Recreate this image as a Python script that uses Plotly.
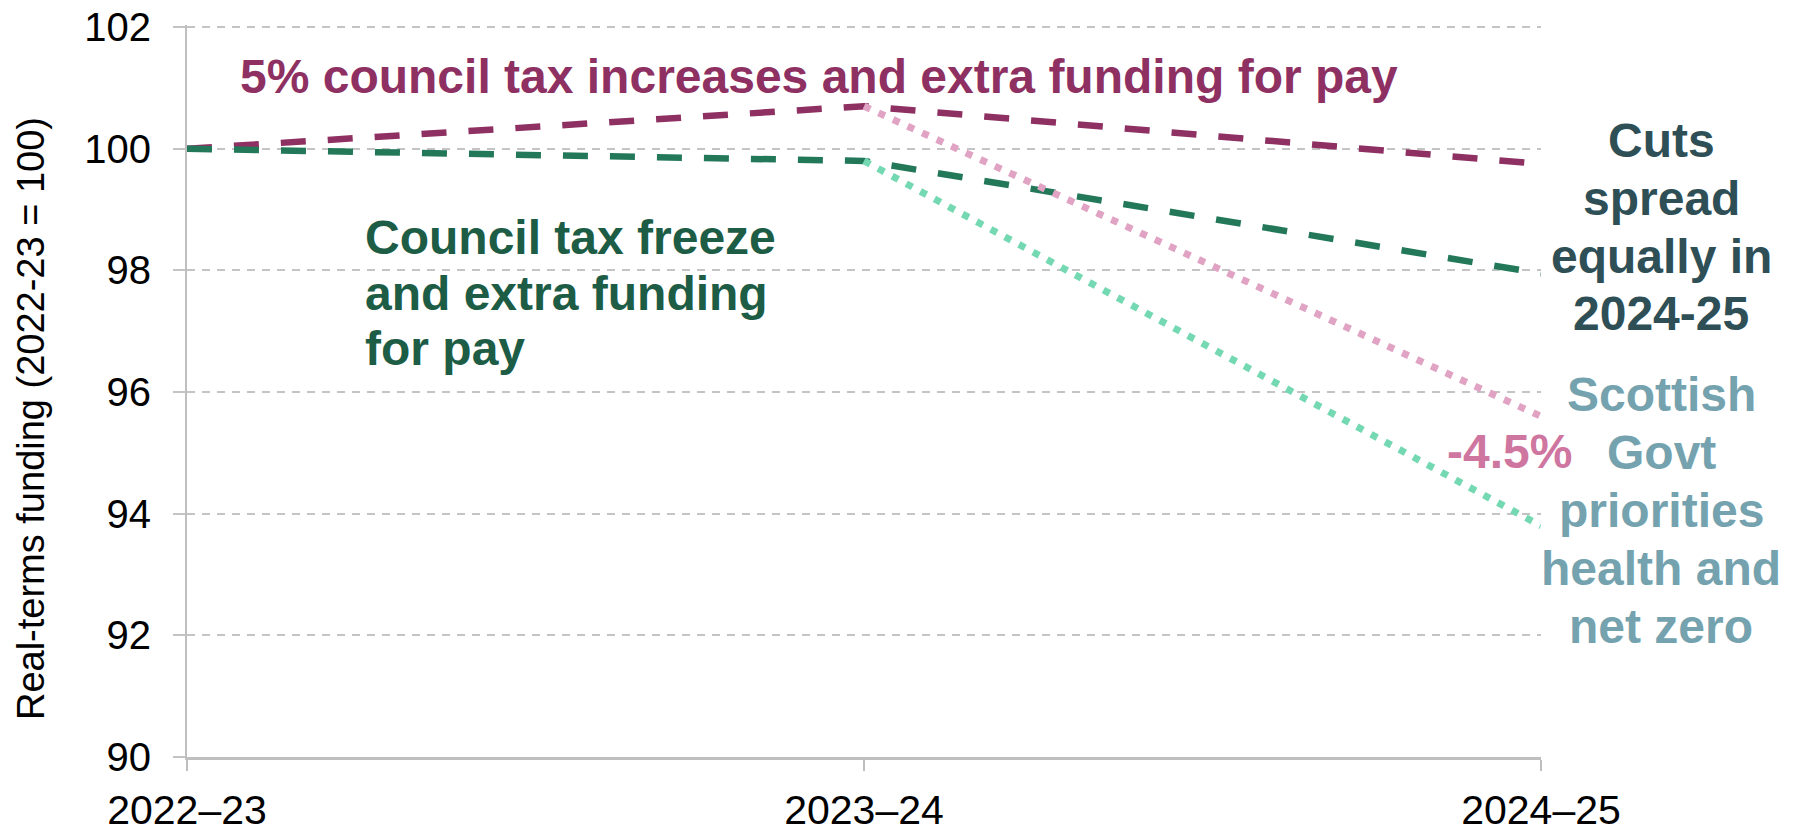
import plotly.graph_objects as go

# ---- data ----
years = ["2022–23", "2023–24", "2024–25"]
ct_increase_pay = [100.0, 100.7, 99.75]      # 5% council tax increases and extra funding for pay
ct_freeze_pay = [100.0, 99.8, 97.95]         # Council tax freeze and extra funding for pay
sg_priorities_increase = [None, 100.7, 95.6]  # Scottish Govt priorities (from 5% increase path)
sg_priorities_freeze = [None, 99.8, 93.8]     # Scottish Govt priorities (from freeze path)
y_ticks = [90, 92, 94, 96, 98, 100, 102]

# ---- styles ----
FONT = "Liberation Sans, Arial, sans-serif"
MAROON = "#8E3062"
GREEN_LINE = "#23785A"
GREEN_TEXT = "#1D5C45"
PINK = "#E0A3C3"
MINT = "#74D8B2"
PINK_TEXT = "#CF76A0"
SLATE = "#2F4F56"
TEAL_TEXT = "#74A2AE"
GRID = "#C4C4C4"

OFF = 8                      # page body margin
W, H = 1796 - OFF, 828 - OFF
Y0, Y1, YPAD = 90, 102, 0.035
# plot area in page pixels (102 gridline at 27, 90 at 757)
L, R, B = 187, 1541, 757
T = 27 - YPAD * (B - 27) / (Y1 - Y0)

def px(x):
    return (x - L) / (R - L)

def py(y):
    return (B - y) / (B - T)

fig = go.Figure()

fig.add_trace(go.Scatter(x=years, y=ct_increase_pay, mode="lines", cliponaxis=False,
                         line=dict(color=MAROON, width=6.5, dash="25px,22px"), showlegend=False))
fig.add_trace(go.Scatter(x=years, y=ct_freeze_pay, mode="lines", cliponaxis=False,
                         line=dict(color=GREEN_LINE, width=6.5, dash="25px,22px"), showlegend=False))
fig.add_trace(go.Scatter(x=years, y=sg_priorities_increase, mode="lines", cliponaxis=False,
                         line=dict(color=PINK, width=7, dash="7px,9px"), showlegend=False))
fig.add_trace(go.Scatter(x=years, y=sg_priorities_freeze, mode="lines", cliponaxis=False,
                         line=dict(color=MINT, width=7, dash="7px,9px"), showlegend=False))

annotations = []

def add_line(text, x, baseline, size, color, anchor="center", bold=True):
    mid = baseline - 0.30 * size
    annotations.append(dict(
        text=f"<b>{text}</b>" if bold else text,
        x=px(x), y=py(mid), xref="paper", yref="paper",
        xanchor=anchor, yanchor="middle", showarrow=False,
        font=dict(family=FONT, size=size, color=color)))

add_line("5% council tax increases and extra funding for pay", 238, 91, 48, MAROON, anchor="left")

for i, t in enumerate(["Council tax freeze", "and extra funding", "for pay"]):
    add_line(t, 363, 252 + i * 55.5, 48, GREEN_TEXT, anchor="left")

for i, t in enumerate(["Cuts", "spread", "equally in", "2024-25"]):
    add_line(t, 1661, 155 + i * 57.7, 48, SLATE)

for i, t in enumerate(["Scottish", "Govt", "priorities", "health and", "net zero"]):
    add_line(t, 1661, 409 + i * 58, 48, TEAL_TEXT)

add_line("-4.5%", 1509, 466, 48, PINK_TEXT)

# y-axis title
annotations.append(dict(
    text="Real-terms funding (2022-23 = 100)", x=px(31), y=py(419),
    xref="paper", yref="paper", xanchor="center", yanchor="middle",
    textangle=-90, showarrow=False, font=dict(family=FONT, size=38, color="black")))

fig.update_layout(
    width=W, height=H, autosize=False,
    margin=dict(l=L - OFF, r=W - (R - OFF), t=T - OFF, b=H - (B - OFF), pad=0, autoexpand=False),
    paper_bgcolor="white", plot_bgcolor="white",
    font=dict(family=FONT, color="black"),
    annotations=annotations,
    xaxis=dict(
        type="category", range=[0, 2], showgrid=False, zeroline=False,
        showline=True, linecolor="#BFBFBF", linewidth=3, automargin=False,
        ticks="outside", ticklen=11, tickcolor="#BFBFBF", tickwidth=2,
        tickfont=dict(family=FONT, size=41, color="black"),
        ticklabelstandoff=4, ticklabeloverflow="allow",
    ),
    yaxis=dict(
        range=[Y0, Y1 + YPAD], tickvals=y_ticks, showgrid=True, gridcolor=GRID,
        gridwidth=2, griddash="8px,7px", zeroline=False, automargin=False,
        showline=True, linecolor="#BFBFBF", linewidth=2,
        ticks="outside", ticklen=12, tickcolor=GRID, tickwidth=2,
        tickfont=dict(family=FONT, size=40, color="black"),
        ticklabelstandoff=14, ticklabeloverflow="allow",
    ),
)

fig.write_html("out.html")
